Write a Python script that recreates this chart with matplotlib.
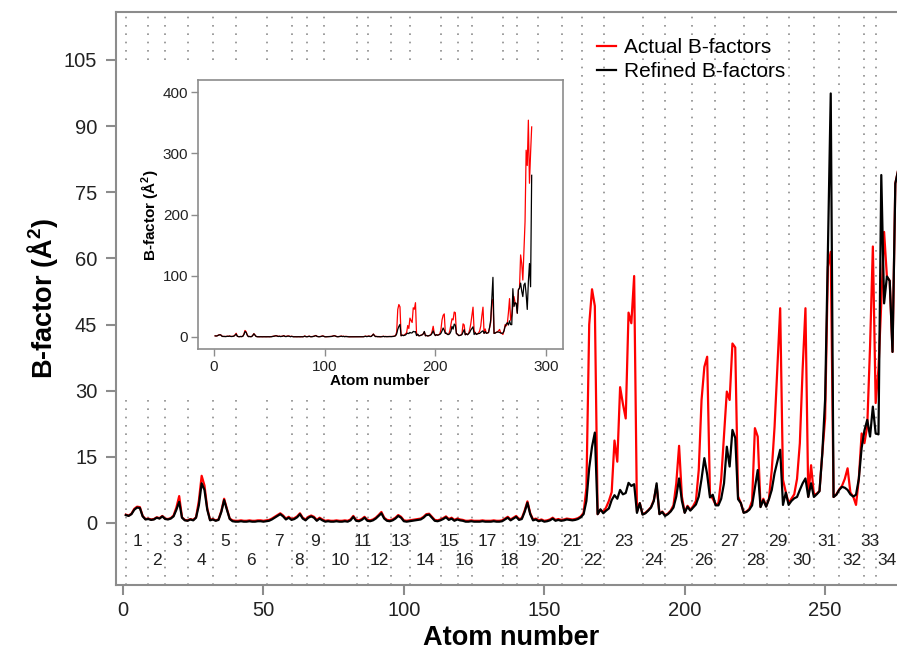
import matplotlib
matplotlib.use('Agg')
import matplotlib.pyplot as plt
from matplotlib.patches import Rectangle
from matplotlib.lines import Line2D

plt.rcParams['font.family'] = ['Liberation Sans', 'DejaVu Sans']
plt.rcParams['mathtext.fontset'] = 'custom'
plt.rcParams['mathtext.rm'] = 'Liberation Sans'
plt.rcParams['mathtext.bf'] = 'Liberation Sans:bold'

# atom numbers and B-factors
atoms = list(range(1, 288))

refined = [
    1.8, 1.6, 2.0, 3.0, 3.5, 3.4, 1.5, 0.8, 0.9, 0.7,
    0.8, 1.2, 1.0, 1.5, 0.9, 0.8, 1.0, 1.5, 3.0, 4.8,
    1.2, 0.6, 0.5, 0.8, 0.6, 1.2, 4.0, 9.0, 7.5, 3.0,
    0.6, 0.8, 0.5, 0.7, 2.5, 5.2, 3.0, 0.9, 0.4, 0.3,
    0.3, 0.4, 0.3, 0.3, 0.4, 0.3, 0.3, 0.4, 0.4, 0.3,
    0.4, 0.5, 0.8, 1.2, 1.6, 2.0, 1.5, 0.8, 1.2, 0.7,
    0.9, 1.3, 2.0, 1.0, 0.6, 1.2, 1.5, 1.2, 0.5, 1.0,
    0.6, 0.3, 0.4, 0.3, 0.3, 0.4, 0.3, 0.3, 0.4, 0.3,
    0.6, 1.4, 0.5, 0.4, 0.7, 1.2, 0.5, 0.4, 0.6, 1.0,
    1.6, 2.2, 1.0, 0.5, 0.4, 0.6, 1.0, 1.6, 1.2, 0.4,
    0.3, 0.4, 0.5, 0.6, 0.7, 0.8, 1.2, 1.8, 1.9, 1.2,
    0.5, 0.4, 0.6, 0.9, 1.3, 0.7, 1.0, 0.5, 0.8, 0.6,
    0.5, 0.3, 0.3, 0.4, 0.3, 0.3, 0.3, 0.4, 0.3, 0.3,
    0.3, 0.4, 0.3, 0.3, 0.4, 0.8, 1.2, 0.6, 1.0, 1.4,
    0.7, 0.9, 2.5, 4.6, 2.0, 0.6, 0.8, 0.4, 0.6, 0.3,
    0.4, 0.6, 1.0, 0.5, 0.7, 0.5, 0.6, 0.8, 0.7, 0.6,
    0.7, 0.9, 1.3, 2.0, 5.0, 12.5, 17.3, 20.5, 2.0, 3.1,
    2.2, 2.8, 3.3, 5.2, 6.3, 5.5, 7.5, 6.5, 6.8, 9.1,
    8.4, 8.8, 2.3, 4.5, 1.9, 2.2, 2.8, 3.5, 5.0, 9.0,
    2.0, 2.5, 1.6, 2.0, 2.6, 3.5, 6.0, 10.1, 5.0, 2.3,
    3.7, 2.8, 3.5, 4.2, 6.0, 10.0, 14.7, 11.0, 5.8, 6.4,
    4.0, 4.0, 5.5, 9.0, 17.3, 12.8, 21.1, 19.3, 5.4, 4.5,
    2.3, 2.5, 3.0, 4.0, 8.0, 12.0, 3.6, 5.2, 3.7, 5.4,
    7.5, 11.3, 14.0, 16.6, 4.1, 6.9, 4.1, 5.0, 5.6, 5.9,
    7.5, 9.0, 10.1, 5.9, 9.0, 5.9, 6.5, 7.2, 15.8, 28.0,
    62.0, 97.4, 5.9, 6.4, 7.5, 8.2, 8.0, 7.5, 6.5, 6.0,
    6.4, 10.0, 17.0, 21.0, 23.4, 19.6, 26.4, 20.3, 20.1, 78.9,
    49.8, 55.9, 54.9, 38.8, 77.0, 80.0, 88.0, 75.0, 66.0, 85.0,
    88.0, 70.0, 45.0, 90.0, 120.0, 82.0, 264.0,
]

actual = [
    1.9, 1.7, 2.1, 3.2, 3.7, 3.6, 1.6, 0.9, 1.0, 0.8,
    0.9, 1.3, 1.1, 1.6, 1.0, 0.9, 1.1, 1.7, 3.5, 6.1,
    1.3, 0.7, 0.6, 0.9, 0.7, 1.3, 5.0, 10.7, 8.5, 3.3,
    0.7, 0.9, 0.6, 0.8, 2.7, 5.5, 3.2, 1.0, 0.6, 0.5,
    0.5, 0.6, 0.5, 0.5, 0.6, 0.5, 0.5, 0.6, 0.6, 0.5,
    0.6, 0.7, 1.0, 1.4, 1.8, 2.2, 1.7, 1.0, 1.4, 0.9,
    1.1, 1.5, 2.2, 1.2, 0.8, 1.4, 1.7, 1.4, 0.7, 1.2,
    0.8, 0.5, 0.6, 0.5, 0.5, 0.6, 0.5, 0.5, 0.6, 0.5,
    0.8, 1.6, 0.7, 0.6, 0.9, 1.4, 0.7, 0.6, 0.8, 1.2,
    1.8, 2.5, 1.2, 0.7, 0.6, 0.8, 1.2, 1.8, 1.4, 0.6,
    0.5, 0.6, 0.7, 0.8, 0.9, 1.0, 1.4, 2.0, 2.1, 1.4,
    0.7, 0.6, 0.8, 1.1, 1.5, 0.9, 1.2, 0.7, 1.0, 0.8,
    0.7, 0.5, 0.5, 0.6, 0.5, 0.5, 0.5, 0.6, 0.5, 0.5,
    0.5, 0.6, 0.5, 0.5, 0.6, 1.0, 1.4, 0.8, 1.2, 1.6,
    0.9, 1.1, 2.8, 4.9, 2.2, 0.8, 1.0, 0.6, 0.8, 0.5,
    0.6, 0.8, 1.2, 0.7, 0.9, 0.7, 0.8, 1.0, 0.9, 0.8,
    0.9, 1.1, 1.5, 2.3, 8.0, 45.0, 53.0, 49.2, 2.0, 3.0,
    2.5, 3.5, 5.0, 7.0, 18.7, 13.9, 30.8, 27.0, 23.7, 47.7,
    45.3, 56.0, 2.6, 4.5, 2.0, 2.3, 2.9, 3.6, 5.2, 8.5,
    2.1, 2.6, 1.8, 2.1, 2.8, 4.0, 9.0, 17.5, 6.0, 2.4,
    3.9, 3.0, 3.8, 5.0, 12.0, 27.9, 35.4, 37.7, 6.4, 5.5,
    4.2, 4.5, 10.0, 20.0, 29.8, 27.9, 40.7, 39.8, 6.0, 4.5,
    2.4, 2.6, 3.2, 5.0, 21.5, 19.6, 3.7, 5.5, 3.8, 5.5,
    12.0, 21.8, 35.0, 48.7, 9.8, 7.0, 4.5, 5.5, 6.5, 10.0,
    18.1, 35.0, 48.7, 6.0, 13.1, 6.5, 6.6, 7.3, 15.8, 23.7,
    58.1, 61.5, 5.9, 6.5, 7.6, 8.4, 10.0, 12.4, 6.9, 6.0,
    4.1, 10.0, 20.3, 18.1, 22.0, 40.0, 62.7, 27.2, 35.0, 50.0,
    66.0, 55.9, 54.9, 38.8, 77.0, 80.0, 134.0, 120.0, 93.0, 140.0,
    188.0, 305.0, 280.0, 354.0, 251.0, 300.0, 343.0,
]

# residue boundaries (atom number where each numbered block starts)
seg_starts = [1.1, 9.0, 15.0, 23.3, 32.2, 40.2, 51.2, 60.1, 65.4, 71.5,
              83.2, 87.4, 95.3, 102.2, 113.1, 119.1, 124.2, 135.2, 140.2, 147.7,
              156.2, 163.4, 171.3, 185.3, 193.0, 202.5, 210.8, 221.1, 229.2, 237.2,
              246.2, 255.0, 264.0, 268.2]
seg_end = 276.0
seg_labels = [str(i) for i in range(1, 35)]

xticks = [0, 50, 100, 150, 200, 250]
yticks = [0, 15, 30, 45, 60, 75, 90, 105]
inset_xticks = [0, 100, 200, 300]
inset_yticks = [0, 100, 200, 300, 400]

W, H = 897, 653
grey = '#8c8c8c'
ylab = 'B-factor (Å$^\\mathbf{2}$)'

fig = plt.figure(figsize=(W / 100, H / 100), dpi=100)

# main panel (right edge runs off the picture)
ax = fig.add_axes([116 / W, 1 - 585 / H, (906 - 116) / W, (585 - 12) / H])
ax.set_xlim(-2.5, 278.8)
ax.set_ylim(-14.06, 115.87)

for xs in seg_starts:
    ax.axvline(xs, color=grey, lw=1.2, linestyle=(0, (1, 4)), zorder=1)

# white block behind the inset
ax.add_patch(Rectangle((116 / W, 1 - 398 / H), (572 - 116) / W, (398 - 60) / H,
                       transform=fig.transFigure, facecolor='white',
                       edgecolor='none', zorder=2))

ax.plot(atoms, actual, color='#ff0000', lw=1.6, zorder=3)
ax.plot(atoms, refined, color='black', lw=1.6, zorder=4)

ends = seg_starts[1:] + [seg_end]
for i, lab in enumerate(seg_labels):
    mid = (seg_starts[i] + ends[i]) / 2
    ypos = -4.2 if i % 2 == 0 else -8.4
    ax.text(mid, ypos, lab, ha='center', va='center', fontsize=12.5,
            color='#222222', zorder=5)

ax.set_xticks(xticks)
ax.set_yticks(yticks)
ax.tick_params(axis='both', colors=grey, labelcolor='#222222', labelsize=14.5,
               length=7.5, width=1.5)
ax.tick_params(axis='x', pad=4)
ax.tick_params(axis='y', pad=6)
for s in ax.spines.values():
    s.set_color(grey)
    s.set_linewidth(1.5)

fig.text(42 / W, 1 - 298 / H, ylab, rotation=90, ha='center', va='center',
         fontsize=19.5, fontweight='bold')
fig.text(511 / W, 1 - 638 / H, 'Atom number', ha='center', va='center',
         fontsize=19.5, fontweight='bold')

handles = [Line2D([], [], color='#ff0000', lw=1.6),
           Line2D([], [], color='black', lw=1.6)]
fig.legend(handles, ['Actual B-factors', 'Refined B-factors'],
           loc='upper left', bbox_to_anchor=(597 / W, 1 - 38 / H),
           frameon=False, fontsize=15, handlelength=0.9, handletextpad=0.4,
           labelspacing=0.25, borderpad=0, borderaxespad=0)

# inset with the whole chain
ins = fig.add_axes([198 / W, 1 - 349 / H, (563 - 198) / W, (349 - 80) / H])
ins.plot(atoms, actual, color='#ff0000', lw=0.9)
ins.plot(atoms, refined, color='black', lw=0.9)
ins.set_xlim(-14.5, 315.3)
ins.set_ylim(-19.6, 419.6)
ins.set_xticks(inset_xticks)
ins.set_yticks(inset_yticks)
ins.tick_params(axis='both', colors=grey, labelcolor='#222222', labelsize=11,
                length=5, width=1)
ins.tick_params(axis='x', pad=3)
ins.tick_params(axis='y', pad=2)
for s in ins.spines.values():
    s.set_color(grey)
    s.set_linewidth(1.2)
fig.text(150 / W, 1 - 215 / H, ylab, rotation=90, ha='center', va='center',
         fontsize=11, fontweight='bold')
fig.text(380 / W, 1 - 381 / H, 'Atom number', ha='center', va='center',
         fontsize=11, fontweight='bold')

fig.savefig('out.png', dpi=100)
